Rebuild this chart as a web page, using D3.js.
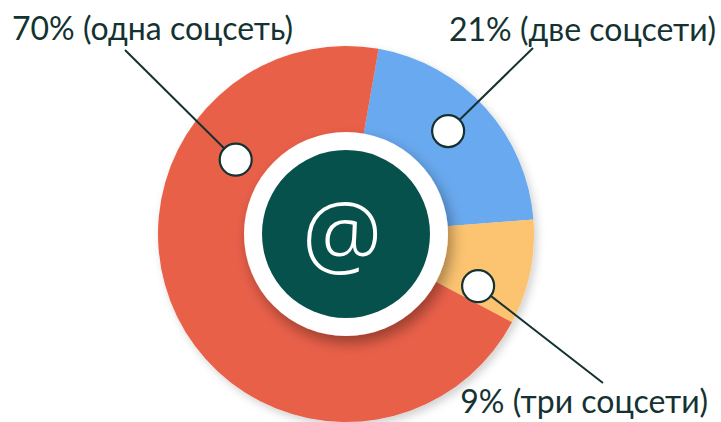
<!DOCTYPE html>
<html>
<head>
<meta charset="utf-8">
<script src="https://cdn.jsdelivr.net/npm/d3@7"></script>
<style>
  html, body { margin: 0; padding: 0; background: #fff; }
  svg { display: block; }
</style>
</head>
<body>
<svg id="chart" width="721" height="422"></svg>
<script>
// данные диаграммы
const categories = ["две соцсети", "три соцсети", "одна соцсеть"];
const shares = [21, 9, 70];
const labels = ["21% (две соцсети)", "9% (три соцсети)", "70% (одна соцсеть)"];
const colors = ["#69a9ef", "#fcc36f", "#e9614a"];

// оформление
const cx = 346, cy = 234;
const outerR = 188, holeR = 102, badgeR = 84;
const startDeg = 10;
// где на дуге сидит кружок-маркер (доля от начала сектора и радиус)
const markerPos = [0.46, 0.8, 0.738];
const markerRad = [145, 142, 133];
// куда уходит линия от маркера и где стоит подпись
const lineEnd = [[533, 48], [603, 383], [125, 50]];
const labelAt = [[716, 41, "end"], [708, 413, "end"], [12, 40, "start"]];
const ink = "#143231";

const svg = d3.select("#chart");
const defs = svg.append("defs");

function shadow(id, dx, dy, blur, op) {
    const f = defs.append("filter").attr("id", id)
        .attr("x", "-30%").attr("y", "-30%").attr("width", "160%").attr("height", "160%");
    f.append("feDropShadow")
        .attr("dx", dx).attr("dy", dy)
        .attr("stdDeviation", blur)
        .attr("flood-color", "#000")
        .attr("flood-opacity", op);
}
shadow("ringShadow", 3, 4, 4, 0.18);
shadow("holeShadow", 4, 7, 7, 0.35);

const g = svg.append("g").attr("transform", `translate(${cx},${cy})`);

const data = categories.map((c, i) => ({ name: c, value: shares[i], i: i }));

const pie = d3.pie()
    .value(d => d.value)
    .sort(null)
    .startAngle(startDeg * Math.PI / 180)
    .endAngle(startDeg * Math.PI / 180 + 2 * Math.PI);

const arcs = pie(data);

const arc = d3.arc().innerRadius(0).outerRadius(outerR);

// секторы
const ring = g.append("g").attr("filter", "url(#ringShadow)");
ring.selectAll("path")
    .data(arcs)
    .enter()
    .append("path")
    .attr("d", arc)
    .attr("fill", d => colors[d.data.i]);

// белый круг и зелёный значок
g.append("circle")
    .attr("r", holeR)
    .attr("fill", "#fff")
    .attr("filter", "url(#holeShadow)");

g.append("circle")
    .attr("r", badgeR)
    .attr("fill", "#07514d");

g.append("text")
    .attr("x", -4)
    .attr("y", -3)
    .attr("text-anchor", "middle")
    .attr("dominant-baseline", "central")
    .style("font-family", "'Open Sans', sans-serif")
    .style("font-weight", 300)
    .style("font-size", "90px")
    .attr("fill", "#fff")
    .text("@");

// выноски
const markerPoint = d => {
    const a = d.startAngle + markerPos[d.data.i] * (d.endAngle - d.startAngle);
    const r = markerRad[d.data.i];
    return [cx + r * Math.sin(a), cy - r * Math.cos(a)];
};

svg.selectAll(".leader")
    .data(arcs)
    .enter()
    .append("line")
    .attr("x1", d => markerPoint(d)[0])
    .attr("y1", d => markerPoint(d)[1])
    .attr("x2", d => lineEnd[d.data.i][0])
    .attr("y2", d => lineEnd[d.data.i][1])
    .attr("stroke", ink)
    .attr("stroke-width", 2);

svg.selectAll(".marker")
    .data(arcs)
    .enter()
    .append("circle")
    .attr("cx", d => markerPoint(d)[0])
    .attr("cy", d => markerPoint(d)[1])
    .attr("r", 16)
    .attr("fill", "#fff")
    .attr("stroke", ink)
    .attr("stroke-width", 2.2);

svg.selectAll(".label")
    .data(arcs)
    .enter()
    .append("text")
    .attr("x", d => labelAt[d.data.i][0])
    .attr("y", d => labelAt[d.data.i][1])
    .attr("text-anchor", d => labelAt[d.data.i][2])
    .style("font-family", "Lato, sans-serif")
    .style("font-size", "32px")
    .attr("fill", ink)
    .text(d => labels[d.data.i]);
</script>
</body>
</html>
